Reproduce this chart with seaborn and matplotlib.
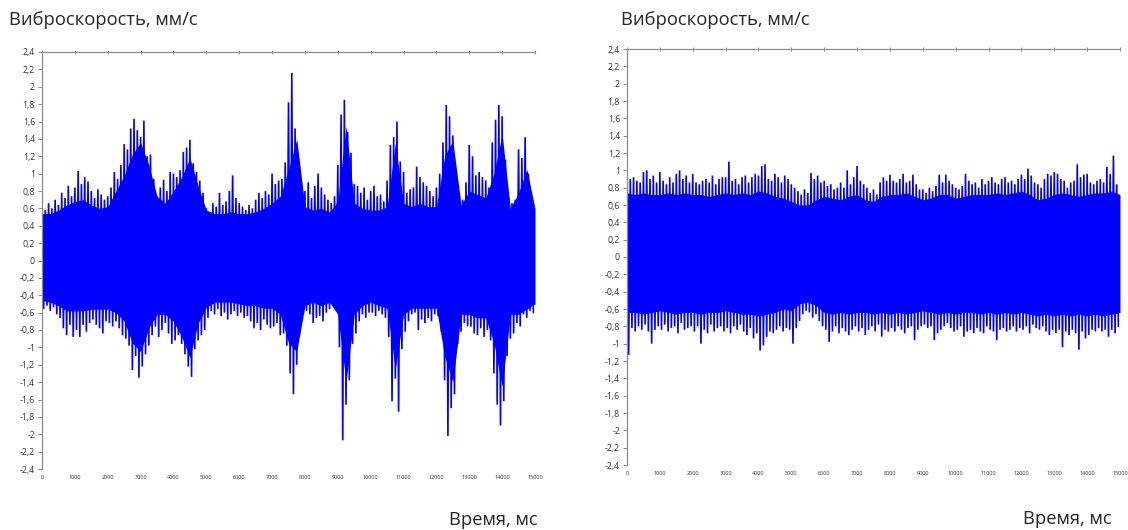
import numpy as np
import pandas as pd
import matplotlib
matplotlib.use("Agg")
import matplotlib.pyplot as plt
import seaborn as sns
from matplotlib.ticker import FuncFormatter

# peak values of the signal, one upper and one lower peak per 100 ms
left_peak_hi = [
    0.62, 0.58, 0.66, 0.60, 0.70, 0.64, 0.78, 0.72, 0.86, 0.74,
    0.84, 1.03, 0.88, 0.96, 0.91, 0.80, 0.72, 0.82, 0.76, 0.70,
    0.74, 0.84, 1.02, 0.94, 1.10, 1.34, 1.28, 1.52, 1.63, 1.50,
    1.42, 1.61, 1.20, 1.22, 0.94, 0.74, 0.84, 0.93, 0.80, 1.02,
    1.00, 0.96, 1.04, 1.25, 1.30, 1.39, 1.12, 1.02, 0.92, 0.78,
    0.60, 0.56, 0.66, 0.62, 0.78, 0.64, 0.68, 0.80, 0.98, 0.72,
    0.66, 0.62, 0.58, 0.64, 0.60, 0.70, 0.78, 0.72, 0.80, 0.76,
    1.00, 0.88, 0.92, 0.94, 1.13, 1.82, 2.16, 1.52, 1.14, 0.74,
    0.80, 0.90, 0.72, 0.86, 1.00, 0.84, 0.76, 0.70, 0.66, 0.74,
    1.10, 1.68, 1.85, 1.48, 1.24, 0.88, 0.86, 0.78, 0.84, 0.70,
    0.80, 0.86, 0.74, 0.76, 0.68, 0.92, 1.33, 1.42, 1.60, 1.14,
    1.02, 0.78, 0.82, 0.84, 1.08, 0.96, 0.90, 0.86, 0.80, 0.74,
    0.84, 1.00, 1.36, 1.79, 1.66, 1.44, 1.00, 0.74, 0.70, 0.90,
    1.33, 1.20, 0.98, 1.02, 0.96, 0.92, 0.84, 1.36, 1.62, 1.79,
    1.66, 1.16, 0.72, 0.66, 0.70, 1.28, 1.18, 1.42, 1.00, 0.72,
]
left_peak_lo = [
    -0.56, -0.52, -0.58, -0.54, -0.62, -0.66, -0.78, -0.86, -0.74, -0.88,
    -0.80, -0.88, -0.74, -0.82, -0.72, -0.68, -0.74, -0.78, -0.84, -0.70,
    -0.72, -0.76, -0.70, -0.78, -0.86, -0.90, -0.98, -1.26, -1.10, -1.35,
    -1.22, -1.08, -0.98, -0.86, -0.76, -0.88, -0.80, -0.72, -0.84, -0.96,
    -0.92, -0.86, -0.96, -1.08, -1.22, -1.34, -1.02, -0.92, -0.86, -0.80,
    -0.66, -0.58, -0.62, -0.56, -0.64, -0.60, -0.68, -0.62, -0.58, -0.64,
    -0.60, -0.66, -0.64, -0.70, -0.78, -0.72, -0.80, -0.68, -0.74, -0.78,
    -0.76, -0.72, -0.86, -0.84, -0.98, -1.30, -1.54, -1.20, -0.80, -0.62,
    -0.58, -0.62, -0.72, -0.66, -0.64, -0.70, -0.60, -0.56, -0.52, -0.56,
    -1.00, -2.07, -1.66, -1.38, -0.96, -0.84, -0.70, -0.62, -0.66, -0.60,
    -0.60, -0.64, -0.58, -0.62, -0.66, -0.88, -1.62, -1.36, -1.74, -1.02,
    -0.82, -0.70, -0.62, -0.60, -0.80, -0.68, -0.72, -0.66, -0.70, -0.62,
    -0.64, -0.82, -1.38, -2.02, -1.70, -1.54, -0.96, -0.82, -0.72, -0.76,
    -0.76, -0.84, -0.86, -0.78, -0.88, -0.80, -0.92, -1.30, -1.66, -1.90,
    -1.62, -1.10, -0.90, -0.84, -0.72, -0.76, -0.62, -0.66, -0.58, -0.60,
]
# edges of the dense (solid) part of the signal, every 250 ms
left_core_hi = [
    0.54, 0.54, 0.58, 0.64, 0.68, 0.70, 0.64, 0.60, 0.62, 0.80,
    0.98, 1.22, 1.36, 1.10, 0.74, 0.66, 0.80, 0.96, 1.18, 0.86,
    0.58, 0.54, 0.54, 0.56, 0.54, 0.54, 0.56, 0.60, 0.66, 0.74,
    1.05, 1.40, 0.62, 0.58, 0.60, 0.56, 0.68, 1.55, 0.66, 0.60,
    0.58, 0.58, 0.62, 1.35, 0.66, 0.62, 0.66, 0.62, 0.62, 1.20,
    1.38, 0.64, 0.80, 0.76, 0.72, 1.00, 1.45, 0.60, 0.78, 1.05,
    0.60,
]
left_core_lo = [
    -0.46, -0.48, -0.52, -0.58, -0.58, -0.58, -0.56, -0.56, -0.56, -0.60,
    -0.70, -0.95, -1.05, -0.78, -0.62, -0.62, -0.70, -0.88, -1.12, -0.72,
    -0.54, -0.48, -0.48, -0.48, -0.50, -0.52, -0.52, -0.55, -0.55, -0.62,
    -0.95, -1.05, -0.52, -0.48, -0.52, -0.48, -0.62, -1.40, -0.62, -0.52,
    -0.48, -0.52, -0.55, -1.25, -0.62, -0.55, -0.55, -0.55, -0.55, -1.10,
    -1.40, -0.62, -0.62, -0.66, -0.66, -0.95, -1.45, -0.62, -0.62, -0.56,
    -0.50,
]

right_peak_hi = [
    1.20, 0.90, 0.92, 0.88, 0.86, 0.98, 1.00, 0.90, 0.94, 0.86,
    0.98, 0.88, 0.84, 0.92, 0.86, 0.96, 1.00, 0.90, 0.94, 0.86,
    0.96, 0.86, 0.84, 0.88, 0.90, 0.86, 0.94, 0.84, 0.90, 0.92,
    0.92, 1.10, 0.88, 0.90, 0.84, 0.92, 0.94, 0.86, 0.92, 0.96,
    0.94, 1.05, 1.07, 0.90, 0.88, 0.96, 0.92, 0.86, 0.94, 0.90,
    0.84, 0.80, 0.76, 0.72, 0.78, 0.74, 0.97, 0.90, 0.94, 0.86,
    0.88, 0.82, 0.84, 0.78, 0.80, 0.86, 0.80, 1.00, 0.84, 0.92,
    1.05, 0.88, 0.84, 0.80, 0.74, 0.78, 0.72, 0.86, 0.92, 0.88,
    0.95, 0.88, 0.86, 0.90, 0.96, 0.86, 0.88, 0.95, 0.84, 0.78,
    0.78, 0.74, 0.80, 0.76, 0.82, 0.95, 0.86, 0.95, 0.88, 0.84,
    0.80, 0.78, 0.82, 0.96, 0.88, 0.84, 0.86, 0.80, 0.90, 0.84,
    0.88, 0.92, 0.86, 0.84, 0.90, 0.92, 0.86, 0.88, 0.84, 0.90,
    0.95, 0.90, 1.02, 0.94, 0.86, 0.84, 0.80, 0.90, 0.96, 0.94,
    0.98, 0.96, 0.90, 0.88, 0.80, 0.86, 0.88, 1.07, 0.92, 0.95,
    0.96, 0.86, 0.84, 0.88, 0.90, 0.86, 1.04, 0.96, 1.17, 0.84,
]
right_peak_lo = [
    -1.13, -0.82, -0.86, -0.80, -0.84, -0.78, -0.86, -1.00, -0.84, -0.80,
    -0.84, -0.78, -0.86, -0.82, -0.80, -0.88, -0.76, -0.84, -0.82, -0.80,
    -0.86, -0.80, -1.00, -0.84, -0.88, -0.78, -0.86, -0.82, -0.80, -0.86,
    -0.82, -0.88, -0.80, -0.84, -0.78, -0.86, -0.90, -0.82, -0.94, -0.88,
    -1.08, -1.02, -0.92, -0.86, -0.88, -0.84, -0.80, -0.86, -0.82, -0.84,
    -1.00, -0.82, -0.74, -0.66, -0.62, -0.64, -0.70, -0.66, -0.74, -0.80,
    -0.84, -0.98, -0.86, -0.80, -0.88, -0.82, -0.86, -0.90, -0.84, -0.80,
    -0.86, -0.82, -0.90, -0.84, -0.80, -0.86, -0.78, -0.92, -0.84, -0.86,
    -0.82, -0.86, -0.80, -0.84, -0.88, -0.82, -0.80, -0.96, -0.84, -0.80,
    -0.78, -0.82, -0.80, -0.96, -0.88, -0.84, -0.80, -0.76, -0.82, -0.86,
    -0.84, -0.80, -0.92, -0.86, -0.84, -0.88, -0.82, -0.86, -0.88, -0.80,
    -0.84, -0.86, -0.96, -0.84, -0.82, -0.86, -0.84, -0.80, -0.86, -0.82,
    -0.84, -0.80, -0.88, -0.78, -0.82, -0.84, -0.80, -0.86, -0.90, -0.84,
    -0.88, -0.84, -1.04, -0.86, -0.90, -0.84, -0.88, -1.07, -0.86, -0.94,
    -0.90, -0.84, -0.86, -0.82, -0.86, -0.84, -0.92, -0.84, -0.88, -0.80,
]
right_core_hi = [
    0.74, 0.72, 0.74, 0.72, 0.72, 0.74, 0.72, 0.74, 0.72, 0.72,
    0.70, 0.72, 0.74, 0.72, 0.74, 0.72, 0.76, 0.74, 0.70, 0.68,
    0.64, 0.60, 0.60, 0.66, 0.70, 0.68, 0.66, 0.70, 0.72, 0.66,
    0.64, 0.70, 0.72, 0.72, 0.74, 0.70, 0.66, 0.68, 0.72, 0.72,
    0.68, 0.70, 0.72, 0.72, 0.72, 0.74, 0.72, 0.74, 0.76, 0.72,
    0.66, 0.68, 0.72, 0.74, 0.72, 0.70, 0.72, 0.74, 0.74, 0.76,
    0.72,
]
right_core_lo = [
    -0.64, -0.64, -0.66, -0.64, -0.62, -0.64, -0.66, -0.64, -0.64, -0.66,
    -0.64, -0.64, -0.62, -0.64, -0.66, -0.66, -0.68, -0.66, -0.64, -0.60,
    -0.62, -0.54, -0.52, -0.56, -0.64, -0.66, -0.64, -0.66, -0.64, -0.64,
    -0.66, -0.64, -0.66, -0.64, -0.66, -0.64, -0.62, -0.64, -0.66, -0.64,
    -0.66, -0.64, -0.64, -0.66, -0.64, -0.66, -0.64, -0.66, -0.64, -0.66,
    -0.68, -0.66, -0.68, -0.66, -0.68, -0.66, -0.68, -0.66, -0.68, -0.66,
    -0.64,
]

x_ticks = list(range(0, 15001, 1000))
y_ticks = [round(-2.4 + 0.2 * k, 1) for k in range(25)]

BLUE = "#0000ff"
GRAY = "#8c8c8c"

sns.set_style("white")
plt.rcParams["font.family"] = ["Open Sans", "DejaVu Sans"]
plt.rcParams["axes.unicode_minus"] = False


def comma(v, pos):
    if abs(v) < 1e-9:
        return "0"
    return f"{round(v, 1):g}".replace(".", ",")


def draw(ax, peak_hi, peak_lo, core_hi, core_lo):
    t_peak = np.arange(len(peak_hi)) * 100
    t_core = np.arange(len(core_hi)) * 250
    ax.fill_between(t_core, core_lo, core_hi, color=BLUE, lw=0)

    # zigzag: upper peak, then lower peak half a bin later
    zt = np.empty(2 * len(t_peak))
    zv = np.empty(2 * len(t_peak))
    zt[0::2] = t_peak
    zt[1::2] = t_peak + 50
    zv[0::2] = peak_hi
    zv[1::2] = peak_lo
    df = pd.DataFrame({"t": zt, "v": zv})
    sns.lineplot(data=df, x="t", y="v", sort=False, estimator=None,
                 color=BLUE, lw=1.2, solid_joinstyle="bevel", ax=ax)

    ax.set_xlim(0, 15000)
    ax.set_ylim(-2.4, 2.4)
    ax.set_xlabel("")
    ax.set_ylabel("")
    ax.set_xticks(x_ticks)
    ax.set_yticks(y_ticks)
    ax.yaxis.set_major_formatter(FuncFormatter(comma))
    for s in ["right", "bottom"]:
        ax.spines[s].set_visible(False)
    for s in ["left", "top"]:
        ax.spines[s].set_visible(True)
        ax.spines[s].set_color(GRAY)
        ax.spines[s].set_linewidth(0.9)
    ax.tick_params(axis="y", left=True, direction="out", length=3,
                   width=0.7, color=GRAY, labelsize=6.3, labelcolor="#333333",
                   pad=2)
    ax.tick_params(axis="x", bottom=False, top=True, labelbottom=True,
                   labeltop=False, direction="inout", length=3, width=0.7,
                   color=GRAY, labelsize=4, labelcolor="#333333", pad=3)


fig = plt.figure(figsize=(11.28, 5.30), dpi=100)
ax1 = fig.add_axes([42 / 1128, 61 / 530, 493 / 1128, 417 / 530])
ax2 = fig.add_axes([627 / 1128, 65 / 530, 493 / 1128, 416 / 530])

draw(ax1, left_peak_hi, left_peak_lo, left_core_hi, left_core_lo)
draw(ax2, right_peak_hi, right_peak_lo, right_core_hi, right_core_lo)

title = "Виброскорость, мм/с"
xlab = "Время, мс"
fig.text(9 / 1128, 1 - 25 / 530, title, ha="left", va="baseline", fontsize=13.2)
fig.text(621 / 1128, 1 - 25 / 530, title, ha="left", va="baseline", fontsize=13.2)
fig.text(538 / 1128, 1 - 525 / 530, xlab, ha="right", va="baseline", fontsize=13.2)
fig.text(1112 / 1128, 1 - 524 / 530, xlab, ha="right", va="baseline", fontsize=13.2)

fig.savefig("out.png", dpi=100)
